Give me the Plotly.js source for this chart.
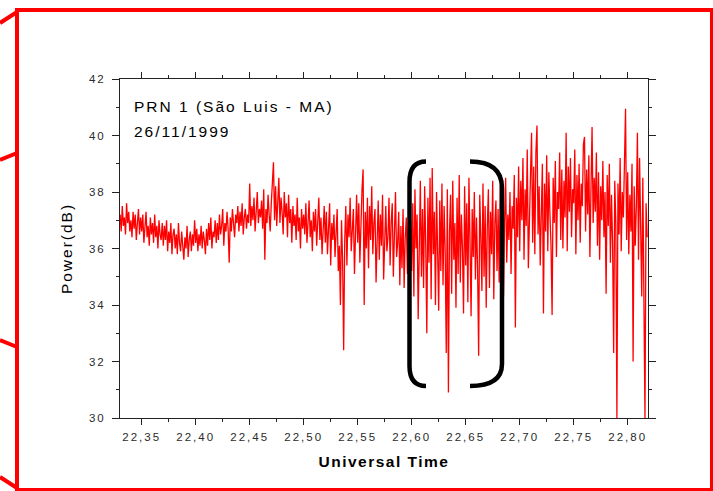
<!DOCTYPE html>
<html>
<head>
<meta charset="utf-8">
<script src="https://cdn.plot.ly/plotly-3.0.1.min.js"></script>
<style>
  html, body { margin: 0; padding: 0; background: #fff; }
  #graph { width: 713px; height: 491px; }
  svg text { letter-spacing: 2px; }
  .xtitle { letter-spacing: 1.5px !important; }
</style>
</head>
<body>
<div id="graph"></div>
<script>
// ---- data ----
const tStart = 22.330;   // first sample time (UT, hours)
const tStep = 0.001;     // sampling step
const powerDb = [
  37.2, 36.6, 37.5, 36.8, 37.1, 36.5, 37.6, 36.9, 37.3, 36.6,
  37.0, 36.4, 37.3, 36.7, 37.2, 36.3, 36.9, 37.4, 36.5, 37.1,
  36.6, 37.2, 36.2, 36.9, 37.3, 36.4, 36.8, 36.1, 37.1, 36.5,
  36.9, 36.2, 37.2, 36.4, 36.8, 36.0, 37.0, 36.5, 36.3, 36.9,
  36.1, 36.8, 36.3, 37.0, 35.9, 36.6, 36.2, 36.9, 35.8, 36.5,
  36.7, 36.0, 36.5, 35.8, 36.9, 36.2, 35.9, 36.6, 36.1, 35.6,
  36.4, 36.0, 36.8, 35.7, 36.3, 36.6, 35.9, 36.5, 36.1, 37.0,
  36.2, 36.7, 35.9, 36.5, 36.1, 36.8, 36.0, 36.6, 36.3, 35.8,
  36.7, 36.1, 36.9, 36.3, 37.1, 36.0, 36.6, 36.4, 37.0, 36.2,
  36.9, 36.3, 37.2, 36.5, 36.8, 37.4, 36.1, 36.9, 36.6, 37.3,
  36.7, 35.5, 37.1, 36.6, 37.4, 36.8, 36.4, 37.2, 36.9, 37.5,
  36.6, 37.3, 36.8, 37.6, 36.5, 37.1, 37.4, 36.7, 37.2, 36.9,
  38.3, 36.8, 37.5, 37.0, 37.8, 36.6, 37.3, 38.0, 36.9, 37.4,
  37.1, 37.7, 36.7, 38.1, 35.6, 37.4, 36.9, 37.9, 37.2, 36.6,
  37.6, 38.4, 39.05, 37.0, 38.2, 36.8, 37.7, 38.5, 36.9, 37.8,
  37.3, 36.5, 38.0, 37.1, 37.6, 36.4, 37.9, 36.9, 37.4, 36.2,
  37.5, 36.8, 37.2, 36.3, 37.8, 36.6, 37.1, 36.0, 37.4, 36.7,
  37.2, 36.5, 37.6, 36.2, 36.9, 37.7, 36.4, 37.0, 35.9, 37.3,
  36.6, 37.4, 36.1, 36.9, 37.8, 36.3, 37.1, 35.8, 36.7, 37.5,
  36.2, 37.3, 35.8, 36.8, 37.6, 35.4, 36.9, 36.3, 37.2, 35.7,
  36.5, 37.4, 35.2, 36.1, 34.0, 37.0, 35.6, 32.4, 36.3, 37.5,
  35.4, 37.2, 36.4, 37.8, 35.9, 36.8, 37.4, 35.1, 36.6, 37.9,
  36.2, 37.6, 35.5, 37.1, 38.1, 38.8, 34.0, 37.3, 36.0, 37.8,
  35.3, 37.5, 36.3, 38.2, 35.8, 36.9, 37.4, 34.8, 36.5, 37.7,
  35.6, 37.2, 36.1, 37.9, 34.9, 36.7, 37.5, 35.9, 36.4, 37.8,
  35.4, 36.9, 37.6, 35.0, 36.6, 38.0, 35.7, 36.2, 37.3, 34.7,
  36.8, 35.3, 37.4, 34.6, 36.4, 37.1, 35.1, 36.9, 34.5, 37.0,
  35.2, 37.6, 34.3, 38.1, 36.0, 37.2, 33.5, 36.8, 38.4, 35.0,
  37.4, 34.6, 38.2, 36.1, 33.0, 37.8, 35.5, 38.5, 34.2, 38.85,
  35.8, 37.3, 34.0, 38.0, 36.4, 33.8, 37.7, 35.2, 38.3, 34.7,
  37.5, 35.9, 32.3, 38.1, 30.9, 36.6, 37.9, 34.4, 38.4, 35.6,
  36.9, 33.9, 37.8, 35.1, 38.6, 34.8, 37.2, 36.0, 33.7, 38.2,
  35.4, 37.6, 34.1, 38.5, 36.2, 33.6, 37.4, 35.7, 38.0, 34.9,
  37.1, 35.3, 32.2, 37.9, 36.4, 34.5, 38.3, 35.0, 37.5, 33.9,
  36.8, 38.1, 34.6, 37.3, 35.8, 38.4, 34.2, 36.9, 37.7, 35.2,
  37.4, 34.8, 38.2, 36.1, 37.6, 34.3, 36.9, 38.5, 35.5, 37.2,
  36.3, 38.0, 35.1, 37.5, 36.7, 38.6, 33.2, 37.8, 36.4, 38.9,
  35.9, 38.4, 37.0, 39.2, 35.6, 38.1, 36.8, 39.5, 35.3, 37.7,
  38.6, 40.1, 36.2, 38.9, 35.8, 39.4, 40.35, 36.5, 38.2, 35.4,
  37.9, 39.0, 33.7, 38.3, 36.6, 39.3, 35.9, 38.7, 37.2, 36.1,
  33.65, 38.5, 36.9, 39.1, 35.7, 38.0, 37.4, 39.4, 36.3, 38.8,
  36.0, 38.4, 37.1, 40.1, 35.9, 38.9, 37.3, 39.2, 36.4, 38.1,
  37.6, 39.5, 35.8, 38.6, 37.0, 39.0, 36.2, 38.3, 37.5, 39.7,
  39.95, 36.6, 38.8, 37.2, 39.3, 35.7, 38.1, 40.3, 36.9, 38.5,
  37.3, 39.4, 36.1, 38.7, 35.6, 38.2, 37.0, 39.1, 36.4, 38.0,
  34.4, 38.6, 36.8, 39.0, 35.5, 37.9, 36.2, 32.3, 38.4, 36.9,
  30.0, 38.3, 36.5, 39.2, 35.9, 38.0, 37.1, 39.6, 40.95, 36.3,
  38.7, 35.8, 37.9, 36.6, 39.0, 32.0, 38.2, 36.1, 37.5, 40.1,
  35.6, 39.2, 36.8, 34.3, 38.5, 35.2, 30.0, 37.6, 36.4
];
const timeUT = powerDb.map((_, i) => +(tStart + i * tStep).toFixed(3));

const xTickVals = [22.35, 22.40, 22.45, 22.50, 22.55, 22.60, 22.65, 22.70, 22.75, 22.80];
const xTickText = ['22,35', '22,40', '22,45', '22,50', '22,55', '22,60', '22,65', '22,70', '22,75', '22,80'];
const yTickVals = [30, 32, 34, 36, 38, 40, 42];
const yTickText = ['30', '32', '34', '36', '38', '40', '42'];

const labelLine1 = 'PRN 1 (São Luis - MA)';
const labelLine2 = '26/11/1999';
const xTitle = 'Universal Time';
const yTitle = 'Power(dB)';

// ---- layout geometry (pixels) ----
const M = { l: 120, r: 65, t: 79, b: 73 };
const FW = 713, FH = 491;
const PW = FW - M.l - M.r, PH = FH - M.t - M.b;
const px = x => (x - M.l) / PW;          // pixel -> paper x
const py = y => (FH - M.b - y) / PH;     // pixel -> paper y

function line(x0, y0, x1, y1, w, c) {
  return { type: 'line', xref: 'paper', yref: 'paper',
    x0: px(x0), y0: py(y0), x1: px(x1), y1: py(y1),
    line: { color: c, width: w }, layer: 'above' };
}
function pathShape(pts, w, c) {
  const d = pts.replace(/(-?[\d.]+),(-?[\d.]+)/g, (m, a, b) => px(+a).toFixed(5) + ',' + py(+b).toFixed(5));
  return { type: 'path', xref: 'paper', yref: 'paper', path: d,
    line: { color: c, width: w }, layer: 'above' };
}

const red = '#ff0000';
const shapes = [
  // outer red frame
  line(15, 10, 713, 10, 4, red),
  line(17, 8, 17, 491, 4, red),
  line(711.5, 8, 711.5, 491, 3, red),
  line(15, 489.5, 713, 489.5, 3, red),
  // red connectors at left edge
  line(0, 23, 17, 12, 4, red),
  line(0, 160, 17, 153, 4, red),
  line(0, 340, 17, 347, 4, red),
  line(0, 477, 17, 488, 4, red),
  // black bracket
  pathShape('M 426,161.5 Q 409.5,161.5 409.5,182 L 409.5,366 Q 409.5,386 426,386', 4.5, '#000'),
  pathShape('M 470,161.5 Q 502,161.5 502,188 L 502,364 Q 502,386 470,386', 4.5, '#000')
];

const tickFont = { family: 'Liberation Sans, Arial, sans-serif', size: 11.5, color: '#2a2a2a' };

const data = [{
  x: timeUT, y: powerDb, type: 'scatter', mode: 'lines',
  line: { color: red, width: 1.3 }, hoverinfo: 'x+y'
}];

const layout = {
  width: FW, height: FH,
  margin: { l: M.l, r: M.r, t: M.t, b: M.b, pad: 0 },
  paper_bgcolor: '#fff', plot_bgcolor: '#fff',
  showlegend: false,
  separators: ',.',
  font: { family: 'Liberation Sans, Arial, sans-serif', color: '#000' },
  xaxis: {
    range: [22.3299, 22.8188],
    tickmode: 'array', tickvals: xTickVals, ticktext: xTickText,
    ticks: 'outside', ticklen: 6, tickwidth: 1, tickcolor: '#222',
    minor: { tickmode: 'linear', tick0: 22.325, dtick: 0.05, ticks: 'outside', ticklen: 3, tickcolor: '#222', showgrid: false },
    showline: true, linecolor: '#222', linewidth: 1, mirror: 'ticks',
    showgrid: false, zeroline: false,
    tickfont: tickFont, ticklabelstandoff: 2,
    title: { text: xTitle, standoff: 14, font: { family: 'Liberation Sans, Arial, sans-serif', size: 15.5, weight: 700, color: '#000' } }
  },
  yaxis: {
    range: [30, 42],
    tickmode: 'array', tickvals: yTickVals, ticktext: yTickText,
    ticks: 'outside', ticklen: 7, tickwidth: 1, tickcolor: '#222',
    minor: { tickmode: 'linear', tick0: 31, dtick: 2, ticks: 'outside', ticklen: 3, tickcolor: '#222', showgrid: false },
    showline: true, linecolor: '#222', linewidth: 1, mirror: 'ticks',
    showgrid: false, zeroline: false,
    tickfont: tickFont, ticklabelstandoff: 4,
    title: { text: yTitle, standoff: 12, font: { family: 'Liberation Sans, Arial, sans-serif', size: 15.5, color: '#000' } }
  },
  shapes: shapes,
  annotations: [
    { text: labelLine1, xref: 'paper', yref: 'paper', x: px(132), y: py(106.5),
      xanchor: 'left', yanchor: 'middle', showarrow: false,
      font: { family: 'Liberation Sans, Arial, sans-serif', size: 15.5, color: '#000' } },
    { text: labelLine2, xref: 'paper', yref: 'paper', x: px(132), y: py(131.5),
      xanchor: 'left', yanchor: 'middle', showarrow: false,
      font: { family: 'Liberation Sans, Arial, sans-serif', size: 15.5, color: '#000' } }
  ]
};

Plotly.newPlot('graph', data, layout, { displayModeBar: false, staticPlot: true });
</script>
</body>
</html>
